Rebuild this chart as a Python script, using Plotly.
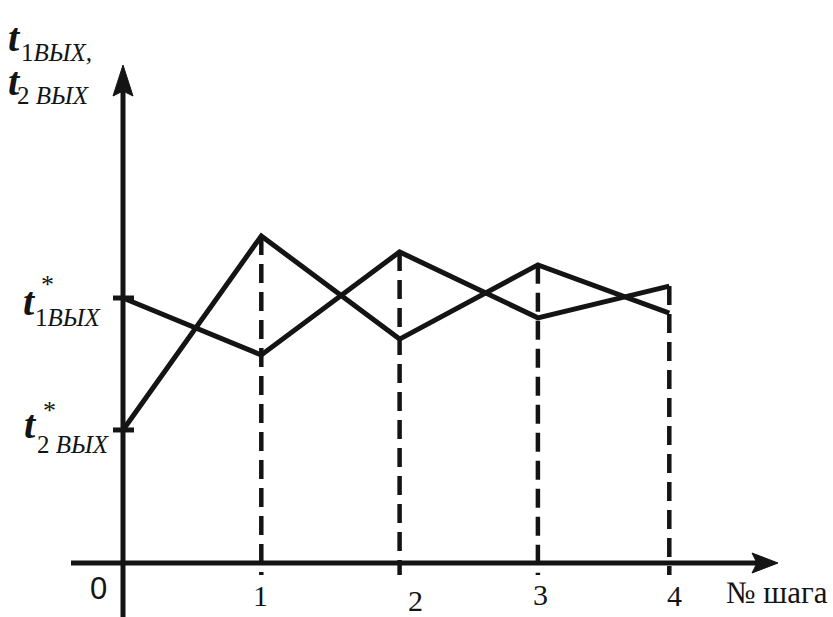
import plotly.graph_objects as go

# ---- data ----
steps = [0, 1, 2, 3, 4]
step_pos = [0.0, 1.0, 2.0, 3.0, 3.95]          # where each step sits on the horizontal axis
t1_out = [10.0, 7.85, 11.74, 9.25, 10.45]       # curve starting at t*1вых
t2_out = [5.02, 12.34, 8.45, 11.25, 9.43]       # curve starting at t*2вых
step_labels = ["1", "2", "3", "4"]

W, H = 833, 617
X0PX, XUNIT = 123, 138.3
Y0PX, YUNIT = 563, 26.5


def dx(px):
    return (px - X0PX) / XUNIT


def dy(py):
    return (Y0PX - py) / YUNIT


def px(x):
    return x / W


def py(y):
    return 1 - y / H


INK = "#141414"
SERIF = "Liberation Serif"

fig = go.Figure()

# dashed verticals at each step (from x-axis to the higher curve)
for s, xp, a, b in zip(steps[1:], step_pos[1:], t1_out[1:], t2_out[1:]):
    fig.add_trace(go.Scatter(
        x=[xp, xp], y=[max(a, b), -0.45], mode="lines",
        line=dict(color=INK, width=4.5, dash="19px,9px"),
        hoverinfo="skip", showlegend=False))

# the two curves
fig.add_trace(go.Scatter(x=step_pos, y=t1_out, mode="lines",
                         line=dict(color=INK, width=5), showlegend=False,
                         hoverinfo="skip"))
fig.add_trace(go.Scatter(x=step_pos, y=t2_out, mode="lines",
                         line=dict(color=INK, width=5), showlegend=False,
                         hoverinfo="skip"))

shapes = []
# y axis
shapes.append(dict(type="line", x0=0, x1=0, y0=dy(620), y1=dy(90),
                   line=dict(color=INK, width=5)))
shapes.append(dict(type="path",
                   path=f"M {dx(123)},{dy(65)} L {dx(133)},{dy(96)} L {dx(123)},{dy(91)} L {dx(113)},{dy(96)} Z",
                   fillcolor=INK, line=dict(color=INK, width=1)))
# x axis
shapes.append(dict(type="line", x0=dx(71), x1=dx(758), y0=0, y1=0,
                   line=dict(color=INK, width=5)))
shapes.append(dict(type="path",
                   path=f"M {dx(778)},{dy(563)} L {dx(752)},{dy(553)} L {dx(757)},{dy(563)} L {dx(752)},{dy(573)} Z",
                   fillcolor=INK, line=dict(color=INK, width=1)))
# ticks for starting values
for v in (t1_out[0], t2_out[0]):
    shapes.append(dict(type="line", x0=dx(113), x1=dx(134), y0=v, y1=v,
                       line=dict(color=INK, width=5)))

ann = []


def label(text, x, y, size, family=SERIF):
    ann.append(dict(text=text, x=px(x), y=py(y), xref="paper", yref="paper",
                    xanchor="center", yanchor="middle", showarrow=False,
                    font=dict(family=family, size=size, color=INK)))


# step numbers
offsets = [(260, 595), (415, 600), (540, 594), (674, 595)]
for lab, (xx, yy) in zip(step_labels, offsets):
    label(lab, xx, yy, 30)
label("0", 98, 588, 31, "Liberation Sans")
label("№ шага", 777, 592, 31)

# axis title (top-left)
label("<b><i>t</i></b>", 14, 37, 40)
label("1<i>ВЫХ,</i>", 56, 53, 25)
label("<b><i>t</i></b>", 14, 82, 40)
label("2 <i>ВЫХ</i>", 53, 96, 25)

# t*1вых
label("<b><i>t</i></b>", 29, 301, 40)
label("*", 47, 284, 26)
label("1<i>ВЫХ</i>", 68, 318, 25)
# t*2вых
label("<b><i>t</i></b>", 31, 424, 40)
label("*", 49, 410, 26)
label("2 <i>ВЫХ</i>", 73, 444, 25)

fig.update_layout(
    width=W, height=H,
    margin=dict(l=0, r=0, t=0, b=0),
    paper_bgcolor="white", plot_bgcolor="white",
    xaxis=dict(range=[dx(0), dx(W)], visible=False, fixedrange=True),
    yaxis=dict(range=[dy(H), dy(0)], visible=False, fixedrange=True),
    shapes=shapes, annotations=ann, hovermode=False,
)

fig.write_html("out.html", config={"displayModeBar": False},
               post_script="document.body.style.margin='0';document.body.style.overflow='hidden';")
